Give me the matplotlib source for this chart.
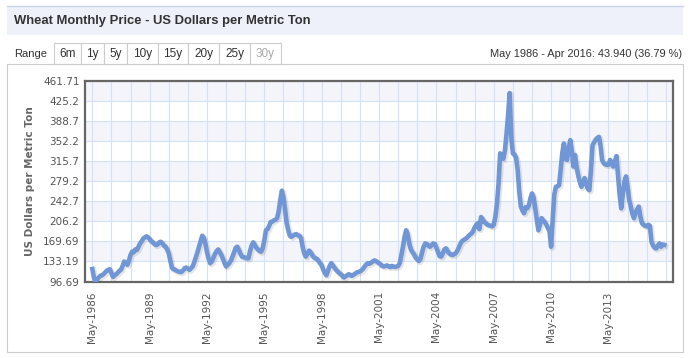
import matplotlib
matplotlib.use("Agg")
import matplotlib.pyplot as plt
import matplotlib.patheffects as pe
from matplotlib.patches import Rectangle
import numpy as np

# monthly wheat price, May 1986 .. Apr 2016 (one row = May..Apr)
price = [
    119.43, 104, 96.69, 100, 104, 107, 108, 110, 113, 116, 118, 119,
    112, 105, 108, 110, 113, 116, 118, 125, 133, 130, 127, 135,
    145, 151, 150, 155, 154, 160, 166, 170, 175, 177, 179, 177,
    174, 170, 168, 165, 163, 164, 168, 169, 166, 162, 160, 155,
    148, 134, 122, 119, 118, 116, 115, 114, 114, 117, 121, 122,
    120, 118, 121, 124, 132, 141, 150, 160, 170, 180, 176, 165,
    150, 138, 130, 133, 140, 147, 152, 155, 150, 145, 138, 130,
    124, 127, 130, 135, 142, 150, 158, 160, 154, 147, 142, 141,
    140, 139, 139, 152, 162, 168, 163, 158, 155, 152, 151, 158,
    172, 190, 192, 198, 205, 206, 208, 209, 212, 225, 245, 262,
    250, 228, 203, 190, 180, 178, 180, 182, 183, 181, 180, 176,
    160, 148, 142, 147, 153, 150, 145, 141, 139, 138, 134, 130,
    126, 118, 112, 108, 117, 125, 130, 126, 122, 118, 115, 112,
    110, 107, 104, 106, 108, 110, 108, 107, 109, 111, 113, 114,
    115, 117, 120, 124, 128, 130, 129, 131, 133, 135, 134, 132,
    130, 128, 125, 124, 125, 126, 124, 123, 125, 124, 123, 124,
    125, 130, 145, 160, 178, 190, 182, 165, 155, 150, 146, 140,
    137, 134, 138, 150, 160, 166, 165, 162, 160, 163, 166, 165,
    158, 150, 143, 142, 148, 155, 157, 152, 148, 146, 145, 146,
    148, 152, 158, 165, 170, 172, 174, 176, 179, 182, 184, 188,
    195, 200, 203, 192, 214, 210, 205, 203, 200, 199, 198, 197,
    200, 215, 238, 275, 330, 325, 320, 335, 365, 400, 439.7, 360,
    330, 328, 322, 300, 260, 233, 226, 221, 232, 230, 235, 248,
    257, 250, 230, 210, 190, 200, 212, 208, 205, 200, 194, 188,
    160, 210, 255, 269, 270, 272, 300, 330, 348, 320, 318, 340,
    354, 335, 306, 327, 305, 290, 278, 269, 275, 285, 275, 266,
    263, 300, 345, 350, 355, 358, 360, 345, 318, 312, 310, 309,
    309, 318, 312, 306, 315, 325, 290, 255, 230, 255, 278, 288,
    270, 245, 233, 220, 212, 222, 228, 233, 215, 203, 200, 198,
    197, 200, 198, 169, 162, 158, 157, 162, 166, 160, 164, 163.37,
]
y_ticks = [96.69, 133.19, 169.69, 206.2, 242.7, 279.2, 315.7, 352.2, 388.7, 425.2, 461.71]
y_labels = ["96.69", "133.19", "169.69", "206.2", "242.7", "279.2", "315.7",
            "352.2", "388.7", "425.2", "461.71"]
x_labels = ["May-%d" % y for y in range(1986, 2014, 3)]
ranges = ["6m", "1y", "5y", "10y", "15y", "20y", "25y", "30y"]

W, H = 690, 358
fig = plt.figure(figsize=(W / 100, H / 100), dpi=100)
fig.patch.set_facecolor("white")

# page decoration in pixel coords
bg = fig.add_axes([0, 0, 1, 1])
bg.set_xlim(0, W)
bg.set_ylim(H, 0)
bg.axis("off")
bg.add_patch(Rectangle((7, 6), 676, 29, facecolor="#eef1f9", edgecolor="none"))
bg.plot([7, 683], [6, 6], color="#c9d4ea", lw=1)
bg.text(14, 21, "Wheat Monthly Price - US Dollars per Metric Ton", fontsize=9.4,
        fontweight="bold", color="#333333", va="center", family="Liberation Sans")
bg.text(14, 54, "Range", fontsize=8, color="#333333", va="center", family="Liberation Sans")
edges = [54, 81, 104, 127, 157.5, 188, 219, 250, 281]
for i, r in enumerate(ranges):
    x0, x1 = edges[i], edges[i + 1]
    bg.add_patch(Rectangle((x0, 43), x1 - x0, 21, facecolor="white", edgecolor="#cccccc", lw=0.8))
    bg.text((x0 + x1) / 2, 54, r, fontsize=8.5, ha="center", va="center",
            color="#aaaaaa" if r == "30y" else "#333333", family="Liberation Sans")
bg.text(682, 54, "May 1986 - Apr 2016: 43.940 (36.79 %)", fontsize=7.9, ha="right",
        va="center", color="#333333", family="Liberation Sans")
bg.plot([7, 683, 683, 7, 7], [64, 64, 352, 352, 64], color="#cccccc", lw=0.8)

# plot area
left, right, top, bottom = 85, 672.5, 81, 281.5
ax = fig.add_axes([left / W, (H - bottom) / H, (right - left) / W, (bottom - top) / H])
x = np.arange(len(price))
ax.set_xlim(-4.6, 364.2)
ax.set_ylim(y_ticks[0], y_ticks[-1])

for k in range(1, len(y_ticks) - 1, 2):
    ax.axhspan(y_ticks[k], y_ticks[k + 1], color="#f4f5fb", lw=0, zorder=0)
ax.axhspan(y_ticks[-2], y_ticks[-1], color="#f4f5fb", lw=0, zorder=0)
for yv in y_ticks:
    ax.axhline(yv, color="#d5e1f7", lw=0.8, zorder=1)
for xv in range(0, 365, 12):
    ax.axvline(xv, color="#d5e1f7", lw=0.8, zorder=1)

ax.plot(x, price, color="#7096d6", lw=3.3, solid_joinstyle="round", zorder=3,
        path_effects=[pe.SimpleLineShadow(offset=(1.0, -1.0), shadow_color="black",
                                          alpha=0.1, linewidth=4.0), pe.Normal()])

ax.set_yticks(y_ticks)
ax.set_yticklabels(y_labels)
ax.set_xticks(range(0, 325, 36))
ax.set_xticklabels(x_labels, rotation=90)
ax.tick_params(length=0, labelsize=7.5, colors="#555555", pad=4)
ax.tick_params(axis="x", pad=7)
for s in ax.spines.values():
    s.set_color("#666666")
    s.set_linewidth(1.6)
ax.set_ylabel("US Dollars per Metric Ton", fontsize=7.5, fontweight="bold",
              color="#666666", labelpad=6)

fig.savefig("out.png", dpi=100)
